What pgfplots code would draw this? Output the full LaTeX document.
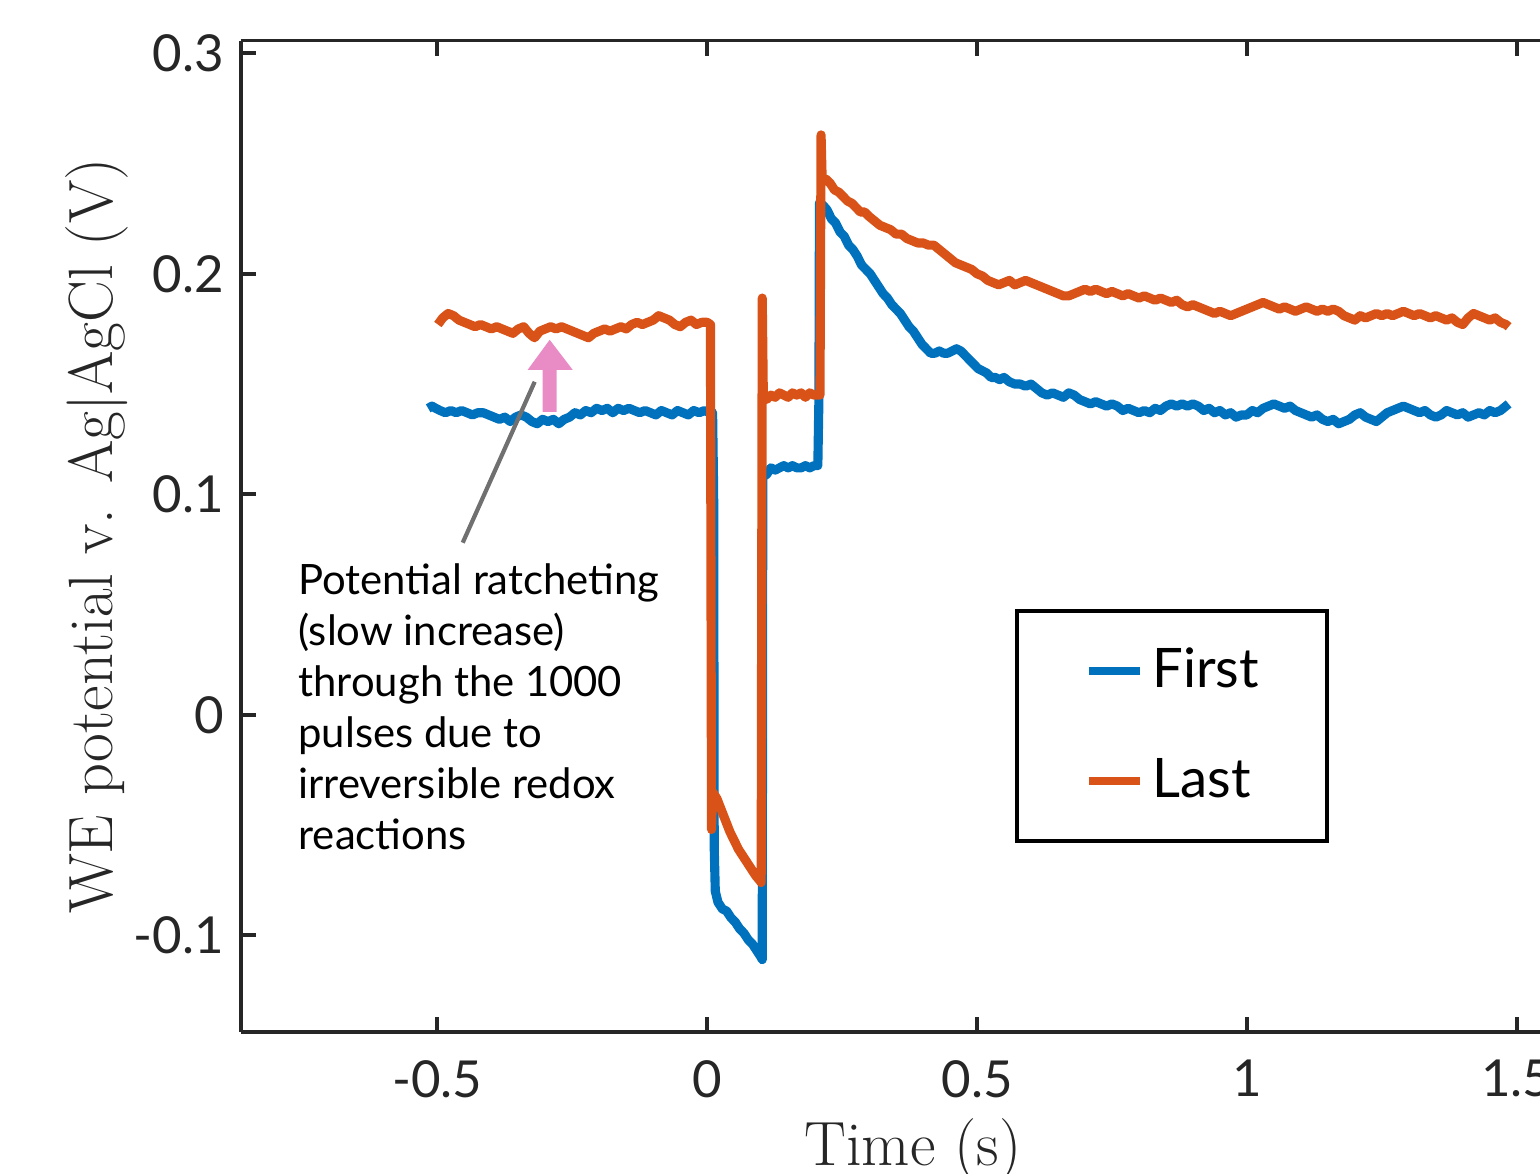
\documentclass[border=0pt]{standalone}
\usepackage{pgfplots}
\pgfplotsset{compat=1.18}
\usepackage{pgfplotstable}
\usepackage{fontspec}
\newfontfamily\lato{Lato}
\definecolor{mblue}{RGB}{0,114,189}
\definecolor{morange}{RGB}{217,83,25}
\definecolor{axgray}{RGB}{38,38,38}
\definecolor{pinkc}{RGB}{233,140,198}
\definecolor{leadgray}{RGB}{112,112,112}

\pgfplotstableread{
x y
-0.517 0.139
-0.510 0.140
-0.503 0.139
-0.495 0.138
-0.485 0.137
-0.475 0.138
-0.465 0.137
-0.455 0.138
-0.445 0.137
-0.435 0.136
-0.425 0.137
-0.415 0.137
-0.405 0.136
-0.395 0.135
-0.385 0.134
-0.375 0.135
-0.365 0.133
-0.355 0.135
-0.345 0.136
-0.335 0.135
-0.325 0.133
-0.315 0.132
-0.305 0.134
-0.295 0.133
-0.285 0.134
-0.275 0.132
-0.265 0.134
-0.255 0.135
-0.245 0.137
-0.235 0.136
-0.225 0.138
-0.215 0.137
-0.205 0.139
-0.195 0.138
-0.185 0.139
-0.175 0.137
-0.165 0.139
-0.155 0.138
-0.145 0.139
-0.135 0.138
-0.125 0.137
-0.115 0.138
-0.105 0.137
-0.095 0.136
-0.085 0.138
-0.075 0.137
-0.065 0.136
-0.055 0.138
-0.045 0.137
-0.035 0.136
-0.025 0.138
-0.015 0.137
-0.005 0.138
0.004 0.137
0.010 0.137
0.012 0.100
0.013 -0.060
0.015 -0.080
0.020 -0.085
0.028 -0.088
0.036 -0.089
0.044 -0.092
0.052 -0.094
0.060 -0.097
0.068 -0.099
0.076 -0.102
0.084 -0.104
0.092 -0.107
0.100 -0.110
0.102 -0.111
0.103 0.108
0.110 0.109
0.118 0.112
0.126 0.111
0.134 0.112
0.142 0.113
0.150 0.112
0.158 0.113
0.166 0.112
0.174 0.112
0.182 0.113
0.190 0.112
0.198 0.113
0.205 0.113
0.207 0.143
0.208 0.232
0.215 0.231
0.222 0.229
0.230 0.225
0.238 0.223
0.246 0.219
0.254 0.217
0.262 0.213
0.270 0.211
0.278 0.208
0.286 0.204
0.294 0.202
0.302 0.200
0.310 0.197
0.318 0.194
0.326 0.191
0.334 0.189
0.342 0.186
0.350 0.184
0.358 0.182
0.366 0.179
0.374 0.176
0.382 0.174
0.390 0.171
0.398 0.168
0.406 0.166
0.414 0.164
0.422 0.164
0.430 0.165
0.438 0.164
0.446 0.164
0.454 0.165
0.462 0.166
0.470 0.165
0.478 0.163
0.486 0.161
0.494 0.159
0.502 0.157
0.510 0.156
0.518 0.155
0.526 0.153
0.534 0.153
0.542 0.152
0.550 0.153
0.560 0.151
0.570 0.150
0.580 0.150
0.590 0.149
0.600 0.150
0.610 0.148
0.620 0.146
0.630 0.145
0.640 0.146
0.650 0.145
0.660 0.144
0.670 0.146
0.680 0.145
0.690 0.143
0.700 0.142
0.710 0.141
0.720 0.142
0.730 0.141
0.740 0.140
0.750 0.141
0.760 0.140
0.770 0.138
0.780 0.139
0.790 0.138
0.800 0.137
0.810 0.138
0.820 0.137
0.830 0.139
0.840 0.138
0.850 0.140
0.860 0.141
0.870 0.140
0.880 0.141
0.890 0.140
0.900 0.141
0.910 0.140
0.920 0.138
0.930 0.139
0.940 0.137
0.950 0.138
0.960 0.136
0.970 0.137
0.980 0.135
0.990 0.136
1.000 0.136
1.010 0.138
1.020 0.137
1.030 0.139
1.040 0.140
1.050 0.141
1.060 0.140
1.070 0.139
1.080 0.140
1.090 0.138
1.100 0.137
1.110 0.136
1.120 0.135
1.130 0.136
1.140 0.134
1.150 0.133
1.160 0.134
1.170 0.132
1.180 0.133
1.190 0.134
1.200 0.136
1.210 0.137
1.220 0.135
1.230 0.134
1.240 0.133
1.250 0.135
1.260 0.137
1.270 0.138
1.280 0.139
1.290 0.140
1.300 0.139
1.310 0.138
1.320 0.137
1.330 0.138
1.340 0.136
1.350 0.135
1.360 0.136
1.370 0.138
1.380 0.137
1.390 0.136
1.400 0.137
1.410 0.135
1.420 0.136
1.430 0.137
1.440 0.136
1.450 0.138
1.460 0.137
1.470 0.138
1.480 0.140
1.485 0.141
}\firsttable

\pgfplotstableread{
x y
-0.499 0.177
-0.490 0.180
-0.480 0.182
-0.470 0.181
-0.460 0.179
-0.450 0.178
-0.440 0.177
-0.430 0.176
-0.420 0.177
-0.410 0.176
-0.400 0.175
-0.390 0.176
-0.380 0.175
-0.370 0.174
-0.360 0.173
-0.350 0.175
-0.340 0.176
-0.330 0.173
-0.320 0.171
-0.310 0.174
-0.300 0.175
-0.290 0.176
-0.280 0.175
-0.270 0.176
-0.260 0.175
-0.250 0.174
-0.240 0.173
-0.230 0.172
-0.220 0.171
-0.210 0.173
-0.200 0.174
-0.190 0.175
-0.180 0.174
-0.170 0.175
-0.160 0.176
-0.150 0.175
-0.140 0.177
-0.130 0.178
-0.120 0.177
-0.110 0.178
-0.100 0.179
-0.090 0.181
-0.080 0.180
-0.070 0.179
-0.060 0.177
-0.050 0.176
-0.040 0.178
-0.030 0.179
-0.020 0.177
-0.010 0.178
0.000 0.178
0.006 0.177
0.008 -0.052
0.010 -0.035
0.018 -0.038
0.026 -0.043
0.034 -0.048
0.042 -0.053
0.050 -0.057
0.058 -0.061
0.066 -0.064
0.074 -0.067
0.082 -0.070
0.090 -0.073
0.097 -0.075
0.100 -0.076
0.102 0.189
0.104 0.145
0.110 0.143
0.118 0.145
0.126 0.144
0.134 0.146
0.142 0.145
0.150 0.144
0.158 0.146
0.166 0.145
0.174 0.146
0.182 0.144
0.190 0.146
0.198 0.145
0.206 0.145
0.209 0.145
0.211 0.263
0.213 0.243
0.220 0.243
0.228 0.241
0.236 0.238
0.244 0.237
0.252 0.235
0.260 0.233
0.268 0.232
0.276 0.230
0.284 0.228
0.292 0.228
0.300 0.226
0.310 0.224
0.320 0.222
0.330 0.221
0.340 0.220
0.350 0.218
0.360 0.218
0.370 0.216
0.380 0.215
0.390 0.214
0.400 0.214
0.410 0.213
0.420 0.213
0.430 0.211
0.440 0.209
0.450 0.207
0.460 0.205
0.470 0.204
0.480 0.203
0.490 0.202
0.500 0.200
0.510 0.199
0.520 0.197
0.530 0.196
0.540 0.195
0.550 0.196
0.560 0.197
0.570 0.195
0.580 0.196
0.590 0.197
0.600 0.196
0.610 0.195
0.620 0.194
0.630 0.193
0.640 0.192
0.650 0.191
0.660 0.190
0.670 0.190
0.680 0.191
0.690 0.192
0.700 0.193
0.710 0.192
0.720 0.193
0.730 0.192
0.740 0.191
0.750 0.192
0.760 0.191
0.770 0.190
0.780 0.191
0.790 0.190
0.800 0.189
0.810 0.190
0.820 0.189
0.830 0.188
0.840 0.189
0.850 0.188
0.860 0.187
0.870 0.188
0.880 0.186
0.890 0.185
0.900 0.186
0.910 0.185
0.920 0.184
0.930 0.183
0.940 0.182
0.950 0.183
0.960 0.182
0.970 0.181
0.980 0.182
0.990 0.183
1.000 0.184
1.010 0.185
1.020 0.186
1.030 0.187
1.040 0.186
1.050 0.185
1.060 0.184
1.070 0.185
1.080 0.184
1.090 0.183
1.100 0.184
1.110 0.185
1.120 0.184
1.130 0.183
1.140 0.184
1.150 0.183
1.160 0.184
1.170 0.183
1.180 0.181
1.190 0.180
1.200 0.179
1.210 0.181
1.220 0.180
1.230 0.181
1.240 0.182
1.250 0.181
1.260 0.182
1.270 0.181
1.280 0.182
1.290 0.183
1.300 0.182
1.310 0.181
1.320 0.182
1.330 0.181
1.340 0.180
1.350 0.181
1.360 0.180
1.370 0.179
1.380 0.180
1.390 0.178
1.400 0.177
1.410 0.180
1.420 0.182
1.430 0.181
1.440 0.180
1.450 0.179
1.460 0.180
1.470 0.178
1.480 0.177
1.485 0.176
}\lasttable

\begin{document}
\begin{tikzpicture}
\begin{axis}[
  at={(2.407cm,1.423cm)}, anchor=south west,
  scale only axis,
  width=13.084cm, height=9.912cm,
  xmin=-0.8644, xmax=1.56,
  ymin=-0.1437, ymax=0.3058,
  axis x line=box, axis y line=left,
  x axis line style={-}, y axis line style={-},
  axis line style={line width=1.1pt, axgray},
  every tick/.style={line width=1.1pt, axgray},
  major tick length=0.15cm,
  tick align=inside,
  xtick={-0.5,0,0.5,1,1.5},
  xticklabels={-0.5,0,0.5,1,1.5},
  ytick={-0.1,0,0.1,0.2,0.3},
  yticklabels={-0.1,0,0.1,0.2,0.3},
  tick label style={font=\lato\fontsize{14.5}{17}\selectfont, text=axgray},
  yticklabel style={anchor=east, inner sep=0pt, xshift=-0.16cm},
  xticklabel style={anchor=north, inner sep=0pt, yshift=-0.28cm},
  xlabel={Time (s)},
  ylabel={WE potential v. Ag$|$AgCl (V)},
  label style={font=\fontsize{17.8}{21}\selectfont, text=axgray},
  xlabel style={at={(axis description cs:0.5138,-0.1345)}, anchor=base},
  ylabel style={at={(axis description cs:-0.1098,0.5)}, anchor=center, rotate=0},
  legend style={at={(axis description cs:0.5918,0.4265)}, anchor=north west,
    draw=black, line width=1.1pt, inner xsep=0.68cm, inner ysep=0.35cm,
    row sep=0.6cm, column sep=0.08cm,
    font=\lato\fontsize{15.5}{18}\selectfont,
    nodes={inner sep=0pt, text height=0.42cm, text depth=0.08cm}},
  legend cell align=left,
  legend image code/.code={\draw[#1, line width=2.4pt] (0cm,0cm) -- (0.51cm,0cm);},
]
\addplot[mblue, line width=2.6pt, line join=round] table[x=x,y=y] {\firsttable};
\addlegendentry{First}
\addplot[morange, line width=2.6pt, line join=round] table[x=x,y=y] {\lasttable};
\addlegendentry{Last}
\end{axis}
\begin{scope}[x=0.01cm, y=-0.01cm, shift={(0cm,11.74cm)}]
  \fill[pinkc] (543,412) -- (543,370) -- (528,370) -- (550,340) -- (573,370) -- (557,370) -- (557,412) -- cycle;
  \draw[leadgray, line width=1.2pt] (535,382) -- (463,543);
  \node[anchor=base west, align=left, inner sep=0pt, font=\lato\fontsize{11.9}{14.5}\selectfont] at (298,850)
    {Potential ratcheting\\(slow increase)\\through the 1000\\pulses due to\\irreversible redox\\reactions};
\end{scope}
\pgfresetboundingbox
\path[use as bounding box] (0,0) rectangle (15.4cm,11.74cm);
\end{tikzpicture}
\end{document}
